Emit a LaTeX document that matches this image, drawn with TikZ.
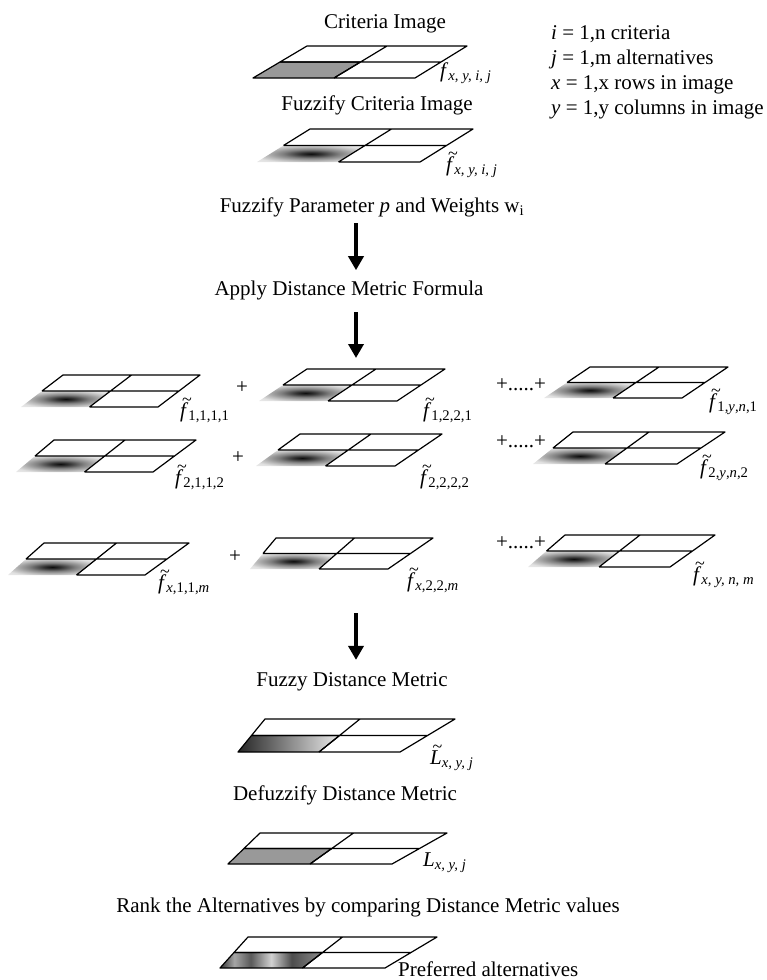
\documentclass[tikz,border=0pt]{standalone}
\usepackage{fontspec}
\setmainfont{Liberation Serif}
\usetikzlibrary{calc}
\usetikzlibrary{arrows.meta}
\usetikzlibrary{positioning}

% blurred spot of a fuzzified cell
\pgfdeclareradialshading{blur}{\pgfpoint{0bp}{0bp}}{color(0bp)=(black!95); color(5bp)=(black!80);
    color(13bp)=(black!50); color(21bp)=(black!28); color(28bp)=(black!12); color(50bp)=(white)}
% banded shading of the preferred cell
\pgfdeclarehorizontalshading{bands}{100bp}{color(0bp)=(black!80); color(25bp)=(black!80);
    color(32bp)=(black!35); color(40bp)=(black!65); color(50bp)=(black!18);
    color(60bp)=(black!70); color(75bp)=(black!45); color(100bp)=(black!45)}

% letters with a tilde on top
\newcommand{\ftil}{\leavevmode\rlap{\raisebox{12pt}{\kern2pt\fontsize{18}{18}\selectfont\textasciitilde}}\textit{f}}
\newcommand{\Ltil}{\leavevmode\rlap{\raisebox{12pt}{\kern2.5pt\fontsize{18}{18}\selectfont\textasciitilde}}\textit{L}}

% 2x2 image grid: name, lower left x, y, lower width, top shift, top width, height, cell style
\newcommand{\imgrid}[8]{%
    \coordinate (#1-bl) at (#2,#3);
    \coordinate (#1-br) at (#2+#4,#3);
    \coordinate (#1-tl) at (#2+#5,#3-#7);
    \coordinate (#1-tr) at (#2+#5+#6,#3-#7);
    \coordinate (#1-ml) at ($(#1-bl)!.5!(#1-tl)$);
    \coordinate (#1-mr) at ($(#1-br)!.5!(#1-tr)$);
    \coordinate (#1-bm) at ($(#1-bl)!.5!(#1-br)$);
    \coordinate (#1-tm) at ($(#1-tl)!.5!(#1-tr)$);
    \coordinate (#1-c) at ($(#1-ml)!.5!(#1-mr)$);
    \path[#8] (#1-bl) -- (#1-bm) -- (#1-c) -- (#1-ml) -- cycle;
    \draw[gridline] (#1-ml) -- (#1-tl) -- (#1-tr) -- (#1-br) -- (#1-bm)
        (#1-ml) -- (#1-mr) (#1-tm) -- (#1-bm);
}

\begin{document}
\begin{tikzpicture}[
    x=1pt, y=-1pt,
    gridline/.style={line width=1.2pt, line join=round},
    txt/.style={font=\fontsize{21}{25}\selectfont, inner sep=0pt, anchor=base},
    lbl/.style={txt, anchor=base west},
    crispcell/.style={fill=black!40, draw, gridline},
    fuzzcell/.style={shade, shading=blur},
    rampcell/.style={left color=black!85, right color=black!8, draw, gridline},
    bandcell/.style={shade, shading=bands, draw, gridline},
    flow/.style={line width=4pt, -{Triangle[width=15pt,length=14pt]}}]

    \useasboundingbox (0,0) rectangle (766,980);
    \coordinate (ax) at (356,0);

    % criteria image
    \node[txt] (crit) at (385,28) {Criteria Image};
    \imgrid{gcrit}{253}{78}{162}{54}{160}{32}{crispcell}
    \node[lbl] (fcrit) at (440,77) {\textit{f}\textsubscript{\textit{x, y, i, j}}};

    % index legend
    \node[lbl] (leg1) at (551,39) {\textit{i} = 1,n criteria};
    \node[lbl] (leg2) at (551,64) {\textit{j} = 1,m alternatives};
    \node[lbl] (leg3) at (551,89) {\textit{x} = 1,x rows in image};
    \node[lbl] (leg4) at (551,114) {\textit{y} = 1,y columns in image};

    % fuzzified criteria image
    \node[txt] (fuzz) at (377,110) {Fuzzify Criteria Image};
    \imgrid{gfuzz}{257}{162}{163}{53}{163}{33}{fuzzcell}
    \node[lbl] (ffuzz) at (446,171) {\ftil\textsubscript{\textit{x, y, i, j}}};

    \node[txt] (param) at (372,212) {Fuzzify Parameter \textit{p} and Weights w\textsubscript{i}};
    \node[txt] (apply) at (349,295) {Apply Distance Metric Formula};
    \coordinate (sum in) at (356,358);
    \draw[flow, shorten <=11pt, shorten >=10pt] (param.base -| ax) -- (apply.north -| ax);
    \draw[flow, shorten <=17pt] (apply.base -| ax) -- (sum in);

    % first row of terms
    \imgrid{g11}{21}{407}{137}{42}{137}{32}{fuzzcell}
    \imgrid{g12}{259}{401}{138}{48}{138}{32}{fuzzcell}
    \imgrid{g13}{544}{398}{138}{46}{138}{31}{fuzzcell}
    \node[lbl] (f11) at (180,417) {\ftil\textsubscript{1,1,1,1}};
    \node[lbl] (f12) at (423,417) {\ftil\textsubscript{1,2,2,1}};
    \node[lbl] (f13) at (709,408) {\ftil\textsubscript{1,\textit{y},\textit{n},1}};
    \node[txt, anchor=center] (p11) at (242,388) {+};
    \node[txt, anchor=center] (p12) at (521,385) {+.....+};

    % second row of terms
    \imgrid{g21}{16}{472}{137}{38}{142}{32}{fuzzcell}
    \imgrid{g22}{256}{466}{139}{44}{142}{32}{fuzzcell}
    \imgrid{g23}{533}{464}{144}{40}{152}{32}{fuzzcell}
    \node[lbl] (f21) at (175,484) {\ftil\textsubscript{2,1,1,2}};
    \node[lbl] (f22) at (420,484) {\ftil\textsubscript{2,2,2,2}};
    \node[lbl] (f23) at (700,474) {\ftil\textsubscript{2,\textit{y},\textit{n},2}};
    \node[txt, anchor=center] (p21) at (238,458) {+};
    \node[txt, anchor=center] (p22) at (521,442) {+.....+};

    % last row of terms
    \imgrid{g31}{8}{575}{137}{36}{145}{32}{fuzzcell}
    \imgrid{g32}{250}{569}{138}{26}{157}{31}{fuzzcell}
    \imgrid{g33}{528}{567}{142}{37}{150}{32}{fuzzcell}
    \node[lbl] (f31) at (158,589) {\ftil\textsubscript{\textit{x},1,1,\textit{m}}};
    \node[lbl] (f32) at (407,587) {\ftil\textsubscript{\textit{x},2,2,\textit{m}}};
    \node[lbl] (f33) at (693,581) {\ftil\textsubscript{\textit{x, y, n, m}}};
    \node[txt, anchor=center] (p31) at (235,557) {+};
    \node[txt, anchor=center] (p32) at (521,543) {+.....+};

    % fuzzy distance metric
    \coordinate (sum out) at (356,613);
    \node[txt] (dist) at (352,686) {Fuzzy Distance Metric};
    \draw[flow, shorten >=12pt] (sum out) -- (dist.north -| ax);
    \imgrid{gdist}{238}{752}{162}{27}{190}{33}{rampcell}
    \node[lbl] (ldist) at (430,764) {\Ltil\textsubscript{\textit{x, y, j}}};

    % crisp distance metric
    \node[txt] (defuz) at (345,800) {Defuzzify Distance Metric};
    \imgrid{gdefuz}{228}{864}{164}{32}{187}{31}{crispcell}
    \node[lbl] (ldefuz) at (423,866) {\textit{L}\textsubscript{\textit{x, y, j}}};

    % ranking
    \node[txt] (rank) at (368,912) {Rank the Alternatives by comparing Distance Metric values};
    \imgrid{gpref}{220}{968}{165}{28}{189}{31}{bandcell}
    \node[lbl] (pref) at (398,976) {Preferred alternatives};

\end{tikzpicture}
\end{document}
